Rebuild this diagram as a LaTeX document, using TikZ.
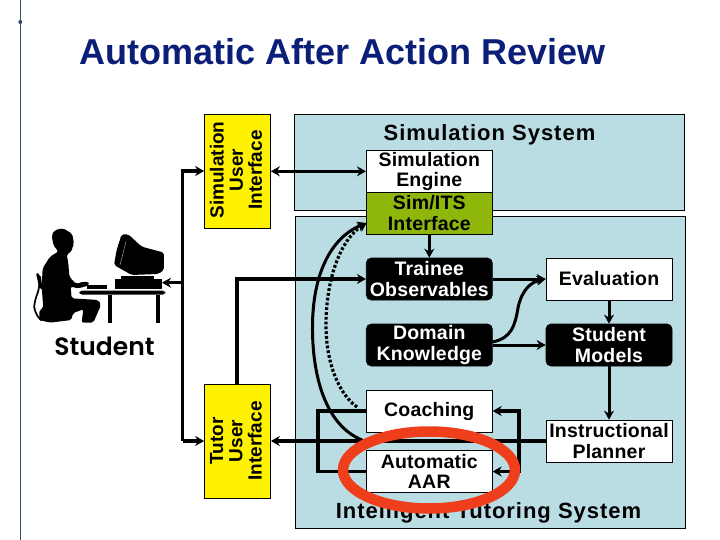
\documentclass[tikz,border=0pt]{standalone}
\usepackage{fontspec}
\setmainfont{Liberation Sans}
\newfontfamily\stfont{Poppins SemiBold}
\usetikzlibrary{arrows.meta}
\definecolor{panelblue}{HTML}{B9DDE2}
\definecolor{simgreen}{HTML}{8FB70B}
\definecolor{titleblue}{HTML}{0B1E78}
\definecolor{rulecol}{HTML}{2B4C6E}
\definecolor{redring}{HTML}{EE3E1C}
\tikzset{
  panel/.style={draw=black,line width=0.7pt,fill=panelblue,anchor=north west,inner sep=0pt},
  bx/.style={draw=black,line width=0.7pt,fill=white,minimum width=126pt,minimum height=42pt,inner sep=0pt,align=center,
    font=\fontsize{19.5}{20.5}\selectfont\bfseries\addfontfeatures{LetterSpace=1}},
  blackbx/.style={bx,fill=black,text=white,rounded corners=5pt},
  uibox/.style={draw=black,line width=0.7pt,fill=yellow,minimum width=66pt,minimum height=114pt,inner sep=0pt},
  uilabel/.style={rotate=90,align=center,inner sep=0pt,font=\fontsize{19}{19.2}\selectfont\bfseries},
  heavy/.style={line width=3.8pt},
  med/.style={line width=3pt},
  tip/.style={-{Stealth[length=9pt,width=10pt]}},
  bothtips/.style={{Stealth[length=9pt,width=10pt]}-{Stealth[length=9pt,width=10pt]}},
  sil/.style={fill=black,draw=none,rounded corners=2pt}
}
\begin{document}
\begin{tikzpicture}[x=1pt,y=-1pt]
\useasboundingbox (0,0) rectangle (720,540);
\fill[white] (0,0) rectangle (720,540);
% left rule
\coordinate (ruleTop) at (20.5,0);
\coordinate (ruleBot) at (20.5,540);
\draw[rulecol,line width=1pt] (ruleTop) -- (ruleBot);
\fill[rulecol] (20.3,22) circle (2pt);
% title
\node[anchor=base west,inner sep=0pt,text=titleblue,font=\fontsize{36}{40}\selectfont\bfseries] (title) at (79,65) {Automatic After Action Review};
% panels
\node[panel,minimum width=390pt,minimum height=96pt] (simpanel) at (294,114) {};
\node[panel,minimum width=390pt,minimum height=311.5pt] (itspanel) at (294.5,216.5) {};
\node[font=\fontsize{22}{24}\selectfont\bfseries\addfontfeatures{LetterSpace=4.5},inner sep=0pt] (simtitle) at (489.5,134.5) {Simulation System};
% boxes
\node[bx,minimum height=41.5pt] (engine) at (429.3,171.3) {Simulation\\Engine};
\node[bx,fill=simgreen] (simits) at (429.3,213) {Sim/ITS\\Interface};
\node[blackbx] (trainee) at (429.3,279) {Trainee\\Observables};
\node[bx] (evaluation) at (609,279) {Evaluation};
\node[blackbx] (domain) at (429.3,345) {Domain\\Knowledge};
\node[blackbx] (models) at (609,345) {Student\\Models};
\node[bx] (coaching) at (429.3,411) {Coaching};
\node[bx] (aar) at (429.3,471.5) {Automatic\\AAR};
\node[bx] (iplan) at (609,441) {Instructional\\Planner};
% yellow boxes
\node[uibox] (simui) at (237.5,171) {};
\node[uilabel] at (236,170) {Simulation\\User\\Interface};
\node[uibox] (tutorui) at (237.5,441) {};
\node[uilabel] at (236,441) {Tutor\\User\\Interface};
% helper points
\coordinate (busTop) at (182.5,171);
\coordinate (busMid) at (182.5,282.7);
\coordinate (busBot) at (182.5,441);
\coordinate (computer) at (162,282.7);
\coordinate (tutorUp) at (237,279);
\coordinate (loopL1) at (318,411);
\coordinate (loopL2) at (318,471.5);
\coordinate (loopR0) at (519,441);
\coordinate (loopR1) at (519,411);
\coordinate (loopR2) at (519,471.5);
\coordinate (simitsIn) at (366.5,223);
% connectors
\draw[heavy,tip] (busBot) -- (busTop) -- (simui.west);
\draw[heavy,tip] (busBot) -- (tutorui.west);
\draw[med,tip] (busMid) -- (computer);
\draw[med,bothtips] (simui.east |- engine.west) -- (engine.west);
\draw[heavy,tip] (tutorui.north -| tutorUp) -- (tutorUp) -- (trainee.west);
\draw[heavy,tip] (iplan.west) -- (tutorui.east);
\draw[heavy] (coaching.west) -- (loopL1) -- (loopL2) -- (aar.west);
\draw[heavy,tip] (loopR0) -- (loopR1) -- (coaching.east);
\draw[heavy,tip] (loopR0) -- (loopR2) -- (aar.east);
\draw[med,tip] (simits.south) -- (trainee.north);
\draw[med,tip] (trainee.east) -- (evaluation.west);
\draw[med,tip] (492.5,342) .. controls (512,338) and (515,325) .. (518,308) .. controls (521,292) and (530,282) .. (evaluation.west);
\draw[med,tip] (domain.east) -- (models.west);
\draw[med,tip] (evaluation.south) -- (models.north);
\draw[med,tip] (models.south) -- (iplan.north);
\draw[med,tip] (362,440) .. controls (325,425) and (312,375) .. (312.5,325) .. controls (313,275) and (330,238) .. (simitsIn);
\draw[line width=3.2pt,dash pattern=on 2.8pt off 2pt,tip] (357,407) .. controls (340,395) and (326,365) .. (326,325) .. controls (326,280) and (340,240) .. (simitsIn);
% panel captions
\node[font=\fontsize{22}{24}\selectfont\bfseries\addfontfeatures{LetterSpace=4.4},inner sep=0pt] (itstitle) at (488.5,512.5) {Intelligent Tutoring System};
% red ring
\draw[redring,line width=10.5pt] (429,470) ellipse [x radius=86pt,y radius=38.5pt];
% student silhouette
\begin{scope}[x=0.3333pt,y=-0.3333pt,yshift=-100pt]
\fill[sil] (175,455) -- (150,470) -- (128,505) -- (125,560) -- (130,625) -- (118,630) -- (118,660) -- (150,668) -- (215,660) -- (218,640) -- (250,628) -- (245,668) -- (280,668) -- (303,615) -- (295,600) -- (215,595) -- (212,560) -- (235,565) -- (265,557) -- (268,547) -- (250,545) -- (228,552) -- (208,530) -- (205,490) -- (200,462) -- (215,455) -- (218,438) -- (222,432) -- (217,402) -- (190,385) -- (165,390) -- (155,405) -- (160,435) -- cycle;
\draw[black,line width=1.7pt,rounded corners=8pt] (112,520) -- (122,560) -- (103,600) -- (102,640) -- (125,662);
\fill[sil] (108,520) -- (122,525) -- (128,570) -- (118,565) -- cycle;
\fill[sil] (365,403) -- (385,403) -- (425,440) -- (492,458) -- (492,510) -- (475,522) -- (395,525) -- (342,495) -- (350,450) -- cycle;
\draw[white!70!black,line width=0.4pt] (378,425) -- (360,495);
\fill[black] (362,528) rectangle (462,538);
\fill[black] (344,538) rectangle (487,568);
\fill[black] (262,555) rectangle (320,568);
\fill[black,rounded corners=3pt] (238,572) rectangle (496,584);
\fill[black] (323,584) rectangle (335,668);
\fill[black] (467,584) rectangle (481,668);
\end{scope}
\node[font=\fontsize{25}{30}\selectfont\stfont,inner sep=0pt] (student) at (104.5,346) {Student};
\end{tikzpicture}
\end{document}
